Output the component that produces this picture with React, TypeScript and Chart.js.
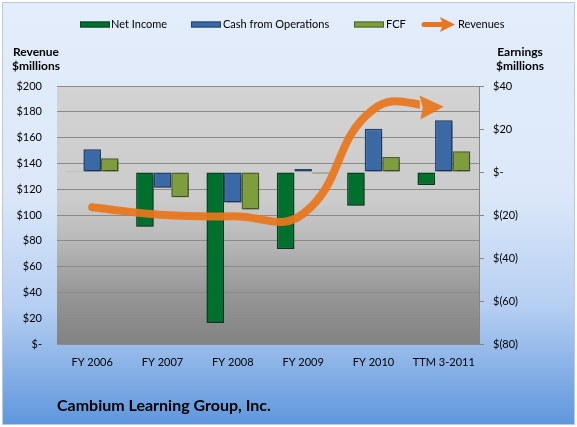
import React, { useEffect, useRef } from "react";
import { Chart, registerables } from "chart.js";

Chart.register(...registerables);

const categories = ["FY 2006", "FY 2007", "FY 2008", "FY 2009", "FY 2010", "TTM 3-2011"];
const netIncome = [0.4, -25.5, -70.2, -35.8, -15.7, -6.1];
const cashFromOps = [10.6, -7.3, -14.2, 1.4, 20.1, 24.1];
const fcf = [6.4, -11.8, -17.4, -0.7, 7.0, 9.7];
const revenues = [106, 100, 99, 101, 182, 184];

const revenueAxis = { min: 0, max: 200, step: 20 };
const earningsAxis = { min: -80, max: 40, step: 20 };

const legendItems = [
  { label: "Net Income", fill: "#00702F", stroke: "#00461D", kind: "bar" },
  { label: "Cash from Operations", fill: "#3B69A6", stroke: "#22446F", kind: "bar" },
  { label: "FCF", fill: "#7E9E3E", stroke: "#4E6527", kind: "bar" },
  { label: "Revenues", fill: "#E8761E", stroke: "#E8761E", kind: "arrow" },
];

const FONT = "Lato, 'Noto Sans', sans-serif";
const LINE_COLOR = "rgba(234,118,28,0.93)";

const fmtLeft = (v: number) => (v === 0 ? "$-" : "$" + v);
const fmtRight = (v: number) => (v === 0 ? "$-" : v < 0 ? "$(" + -v + ")" : "$" + v);

const decorPlugin = {
  id: "decor",
  beforeDraw(chart: any) {
    const { ctx, chartArea, width, height } = chart;
    ctx.save();
    ctx.fillStyle = "#ffffff";
    ctx.fillRect(0, 0, width, height);
    const g = ctx.createLinearGradient(0, 2, 0, 424);
    g.addColorStop(0, "#E3EDFB");
    g.addColorStop(0.45, "#DCE8F9");
    g.addColorStop(0.72, "#B6CFF2");
    g.addColorStop(1, "#5F97DD");
    ctx.fillStyle = g;
    ctx.fillRect(2.5, 2.5, 572, 422);
    ctx.strokeStyle = "#BCC8D8";
    ctx.lineWidth = 1;
    ctx.strokeRect(2.5, 2.5, 572, 422);
    const { left, top, right, bottom } = chartArea;
    const pg = ctx.createLinearGradient(0, top, 0, bottom);
    pg.addColorStop(0, "#D3D3D3");
    pg.addColorStop(0.45, "#CBCBCB");
    pg.addColorStop(0.6, "#B8B8B8");
    pg.addColorStop(0.8, "#979797");
    pg.addColorStop(1, "#828282");
    ctx.fillStyle = pg;
    ctx.fillRect(left, top, right - left, bottom - top);
    ctx.restore();
  },
  beforeDatasetDraw(chart: any, args: any) {
    const ctx = chart.ctx;
    ctx.save();
    const ds = chart.data.datasets[args.index];
    if (ds.type === "line") {
      const pts = args.meta.data;
      const last = pts[pts.length - 1];
      ctx.beginPath();
      ctx.rect(0, 0, last.x - 24, chart.height);
      ctx.clip();
    } else {
      ctx.shadowColor = "rgba(0,0,0,0.35)";
      ctx.shadowBlur = 3;
      ctx.shadowOffsetX = 1.5;
      ctx.shadowOffsetY = 1.5;
    }
  },
  afterDatasetDraw(chart: any, args: any) {
    chart.ctx.restore();
    const ds = chart.data.datasets[args.index];
    if (ds.type !== "line") return;
    const ctx = chart.ctx;
    const pts = args.meta.data;
    const last = pts[pts.length - 1];
    let dx = last.x - (last.cp1x ?? pts[pts.length - 2].x);
    let dy = last.y - (last.cp1y ?? pts[pts.length - 2].y);
    const len = Math.hypot(dx, dy) || 1;
    dx /= len;
    dy /= len;
    const L = 24, W = 12;
    const bx = last.x - dx * L, by = last.y - dy * L;
    const nx = -dy, ny = dx;
    ctx.save();
    ctx.fillStyle = LINE_COLOR;
    ctx.beginPath();
    ctx.moveTo(last.x, last.y);
    ctx.lineTo(bx + nx * W, by + ny * W);
    ctx.lineTo(bx + dx * 3, by + dy * 3);
    ctx.lineTo(bx - nx * W, by - ny * W);
    ctx.closePath();
    ctx.fill();
    ctx.restore();
  },
  afterDraw(chart: any) {
    const ctx = chart.ctx;
    ctx.save();
    ctx.fillStyle = "#000";
    ctx.textBaseline = "middle";
    ctx.font = "11px " + FONT;
    const swX = [80, 191, 354, 422];
    const txX = [111, 223, 386, 458];
    const ly = 24.5;
    legendItems.forEach((it, i) => {
      if (it.kind === "bar") {
        ctx.fillStyle = it.fill;
        ctx.fillRect(swX[i], ly - 3, 30, 6);
        ctx.strokeStyle = it.stroke;
        ctx.lineWidth = 1;
        ctx.strokeRect(swX[i] + 0.5, ly - 2.5, 29, 5);
      } else {
        ctx.strokeStyle = it.fill;
        ctx.lineWidth = 5;
        ctx.lineCap = "round";
        ctx.beginPath();
        ctx.moveTo(swX[i] + 2, ly);
        ctx.lineTo(swX[i] + 20, ly);
        ctx.stroke();
        ctx.fillStyle = it.fill;
        ctx.beginPath();
        ctx.moveTo(swX[i] + 33, ly);
        ctx.lineTo(swX[i] + 18, ly - 7.5);
        ctx.lineTo(swX[i] + 21, ly);
        ctx.lineTo(swX[i] + 18, ly + 7.5);
        ctx.closePath();
        ctx.fill();
      }
      ctx.fillStyle = "#000";
      ctx.textAlign = "left";
      ctx.fillText(it.label, txX[i], ly);
    });
    ctx.font = "bold 12px " + FONT;
    ctx.textAlign = "center";
    ctx.fillText("Revenue", 36, 52);
    ctx.fillText("$millions", 36, 66);
    ctx.fillText("Earnings", 520, 52);
    ctx.fillText("$millions", 520, 66);
    ctx.font = "bold 16px " + FONT;
    ctx.textAlign = "left";
    ctx.fillText("Cambium Learning Group, Inc.", 57, 406);
    ctx.restore();
  },
};

export default function App() {
  const ref = useRef<HTMLCanvasElement>(null);
  useEffect(() => {
    document.body.style.margin = "0";
    Chart.defaults.font.family = FONT;
    const barCommon = {
      type: "bar" as const,
      yAxisID: "y1",
      borderWidth: 1.5,
      borderSkipped: false as any,
      categoryPercentage: 0.75,
      barPercentage: 1.0,
      order: 2,
    };
    const chart = new Chart(ref.current!, {
      type: "bar",
      data: {
        labels: categories,
        datasets: [
          { ...barCommon, label: "Net Income", data: netIncome, backgroundColor: legendItems[0].fill, borderColor: legendItems[0].stroke },
          { ...barCommon, label: "Cash from Operations", data: cashFromOps, backgroundColor: legendItems[1].fill, borderColor: legendItems[1].stroke },
          { ...barCommon, label: "FCF", data: fcf, backgroundColor: legendItems[2].fill, borderColor: legendItems[2].stroke },
          {
            type: "line",
            label: "Revenues",
            data: revenues,
            yAxisID: "y",
            borderColor: LINE_COLOR,
            borderWidth: 8,
            borderCapStyle: "round",
            borderJoinStyle: "round",
            tension: 0.45,
            pointRadius: 0,
            pointHoverRadius: 0,
            fill: false,
            order: 0,
          } as any,
        ],
      },
      options: {
        responsive: false,
        animation: false,
        events: [],
        layout: { padding: { top: 86, left: 0, right: 0, bottom: 0 } },
        plugins: { legend: { display: false }, title: { display: false }, tooltip: { enabled: false } },
        scales: {
          x: {
            type: "category",
            grid: { display: false, drawTicks: false },
            border: { display: false },
            ticks: { color: "#000", font: { size: 11, family: FONT }, padding: 12, maxRotation: 0, autoSkip: false },
            afterFit: (s: any) => { s.height = 83; },
          },
          y: {
            position: "left",
            min: revenueAxis.min,
            max: revenueAxis.max,
            grid: { color: "#8A8A8A", lineWidth: 1, drawTicks: false },
            border: { display: false },
            ticks: { stepSize: revenueAxis.step, color: "#000", font: { size: 11, family: FONT }, padding: 15, callback: (v: any) => fmtLeft(Number(v)) },
            afterFit: (s: any) => { s.width = 57; },
          },
          y1: {
            position: "right",
            min: earningsAxis.min,
            max: earningsAxis.max,
            grid: { drawOnChartArea: false, drawTicks: true, tickLength: 5, color: "#868686" },
            border: { display: true, color: "#868686" },
            ticks: { stepSize: earningsAxis.step, color: "#000", font: { size: 11, family: FONT }, padding: 9, callback: (v: any) => fmtRight(Number(v)) },
            afterFit: (s: any) => { s.width = 98; },
          },
        },
      },
      plugins: [decorPlugin],
    } as any);
    return () => chart.destroy();
  }, []);
  return (
    <div style={{ width: 577, height: 427 }}>
      <canvas ref={ref} width={577} height={427} style={{ display: "block" }} />
    </div>
  );
}
